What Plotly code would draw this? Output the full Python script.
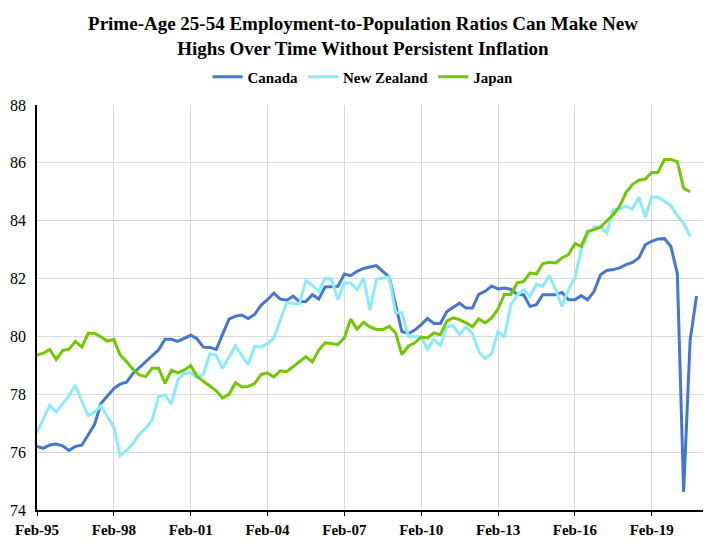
import pandas as pd
import plotly.graph_objects as go

# quarterly observations, Feb-95 .. Nov-20
quarters = pd.date_range("1995-02-01", periods=104, freq="3MS")

canada = [
    76.2, 76.13, 76.25, 76.28, 76.22, 76.06, 76.2, 76.24, 76.6, 76.95,
    77.68, 77.95, 78.2, 78.35, 78.42, 78.72, 78.92, 79.12, 79.33, 79.54,
    79.9, 79.9, 79.83, 79.94, 80.04, 79.92, 79.63, 79.62, 79.55, 80.07,
    80.6, 80.7, 80.74, 80.62, 80.76, 81.08, 81.27, 81.5, 81.29, 81.25,
    81.39, 81.2, 81.21, 81.44, 81.29, 81.71, 81.71, 81.73, 82.16, 82.1,
    82.25, 82.35, 82.4, 82.45, 82.25, 82.06, 81.1, 80.17, 80.1, 80.22,
    80.41, 80.62, 80.45, 80.45, 80.86, 81.0, 81.15, 80.98, 80.98, 81.45,
    81.56, 81.74, 81.64, 81.67, 81.63, 81.45, 81.44, 81.04, 81.1, 81.44,
    81.44, 81.44, 81.52, 81.27, 81.27, 81.41, 81.27, 81.56, 82.13, 82.28,
    82.31, 82.37, 82.48, 82.56, 82.71, 83.17, 83.29, 83.37, 83.38, 83.11,
    82.18, 74.62, 79.86, 81.4,
]

new_zealand = [
    76.68, 77.17, 77.62, 77.38, 77.67, 77.94, 78.32, 77.75, 77.27, 77.38,
    77.6, 77.24, 76.86, 75.88, 76.06, 76.3, 76.62, 76.82, 77.12, 77.92,
    77.97, 77.67, 78.5, 78.72, 78.74, 78.57, 78.7, 79.4, 79.34, 78.9,
    79.3, 79.68, 79.34, 79.02, 79.66, 79.63, 79.75, 79.94, 80.56, 81.17,
    81.14, 81.13, 81.92, 81.77, 81.56, 82.01, 81.98, 81.27, 81.85, 81.84,
    81.61, 82.02, 80.91, 81.97, 82.02, 82.06, 80.82, 80.82, 80.0, 79.98,
    79.98, 79.56, 79.9, 79.68, 80.33, 80.37, 80.06, 80.33, 80.1, 79.48,
    79.23, 79.41, 80.18, 79.97, 81.1, 81.42, 81.62, 81.39, 81.81, 81.73,
    82.1, 81.62, 81.04, 81.62, 82.02, 83.0, 83.52, 83.78, 83.78, 83.57,
    84.4, 84.4, 84.5, 84.4, 84.81, 84.12, 84.82, 84.82, 84.67, 84.52,
    84.17, 83.92, 83.45,
]

japan = [
    79.36, 79.42, 79.55, 79.21, 79.51, 79.56, 79.83, 79.63, 80.11, 80.11,
    79.98, 79.84, 79.9, 79.36, 79.13, 78.86, 78.67, 78.61, 78.9, 78.9,
    78.38, 78.83, 78.74, 78.84, 78.99, 78.62, 78.45, 78.3, 78.12, 77.87,
    78.0, 78.4, 78.25, 78.27, 78.37, 78.68, 78.74, 78.6, 78.81, 78.78,
    78.95, 79.12, 79.3, 79.12, 79.53, 79.78, 79.76, 79.72, 79.95, 80.6,
    80.25, 80.49, 80.33, 80.24, 80.24, 80.35, 80.12, 79.37, 79.66, 79.78,
    79.98, 79.95, 80.12, 80.06, 80.53, 80.64, 80.58, 80.47, 80.33, 80.61,
    80.47, 80.64, 80.95, 81.45, 81.45, 81.85, 81.9, 82.19, 82.16, 82.52,
    82.56, 82.54, 82.71, 82.83, 83.21, 83.11, 83.63, 83.69, 83.78, 84.01,
    84.21, 84.5, 84.98, 85.25, 85.4, 85.44, 85.67, 85.67, 86.12, 86.12,
    86.04, 85.12, 85.0,
]

tick_dates = pd.date_range("1995-02-01", "2019-02-01", freq="36MS")
y_ticks = [74, 76, 78, 80, 82, 84, 86, 88]

serif = "Liberation Serif"

# the page body adds an 8px offset, so the figure is sized to fill the rest
W, H = 710, 538

fig = go.Figure()
fig.add_trace(go.Scatter(x=quarters[:len(canada)], y=canada, name="Canada",
                         mode="lines", line=dict(color="#4677CE", width=3)))
fig.add_trace(go.Scatter(x=quarters[:len(new_zealand)], y=new_zealand, name="New Zealand",
                         mode="lines", line=dict(color="#8DEAFA", width=3)))
fig.add_trace(go.Scatter(x=quarters[:len(japan)], y=japan, name="Japan",
                         mode="lines", line=dict(color="#72C704", width=3)))

fig.update_layout(
    width=W, height=H,
    margin=dict(l=29, r=15, t=97, b=36, autoexpand=False),
    paper_bgcolor="white", plot_bgcolor="white",
    font=dict(family=serif, size=15, color="black"),
    title=dict(
        text="<b>Prime-Age 25-54 Employment-to-Population Ratios Can Make New<br>"
             "Highs Over Time Without Persistent Inflation</b>",
        x=0.5, xanchor="center", y=1 - 22 / H, yanchor="top", yref="container",
        font=dict(family=serif, size=19, color="black"),
    ),
    legend=dict(orientation="h", x=0.5, xanchor="center", xref="container",
                y=1 - 69 / H, yanchor="middle", yref="container",
                font=dict(family=serif, size=15, color="black", weight="bold"),
                itemwidth=30, traceorder="normal"),
    showlegend=True,
)

fig.update_xaxes(
    type="date", automargin=False,
    range=[pd.Timestamp("1995-02-01"), pd.Timestamp("2021-02-01")],
    tickvals=tick_dates, tickformat="%b-%y",
    tickfont=dict(family=serif, size=15, color="black", weight="bold"),
    showgrid=True, gridcolor="#d9d9d9", gridwidth=1,
    showline=True, linecolor="black", linewidth=1.5,
    ticks="outside", ticklen=4, tickcolor="black",
    ticklabelstandoff=1,
    zeroline=False,
)
fig.update_yaxes(
    range=[74, 88], tickvals=y_ticks, automargin=False,
    tickfont=dict(family=serif, size=16, color="black"),
    showgrid=True, gridcolor="#d9d9d9", gridwidth=1,
    showline=True, linecolor="black", linewidth=1.5,
    ticks="", ticklabelstandoff=6, zeroline=False,
)

fig.write_html("out.html")
